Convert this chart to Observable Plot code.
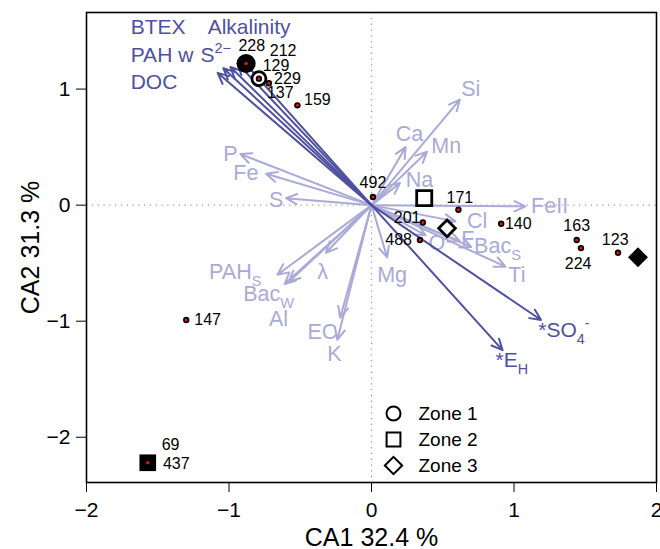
<!DOCTYPE html>
<html><head><meta charset="utf-8">
<script src="https://cdn.jsdelivr.net/npm/d3@7"></script>
<script src="https://cdn.jsdelivr.net/npm/@observablehq/plot@0.6"></script>
<style>
body{margin:0;background:#fff;}
#chart svg{font-family:"Liberation Sans",Arial,Helvetica,sans-serif;}
</style></head><body><div id="chart"></div>
<script>
// Dark (fitted, significant) variable arrows
const darkNames = ["BTEX","Alkalinity","PAH w","S2-","DOC","SO4","EH"];
const darkTipX  = [-1.08,-1.04,-0.99,-0.94,-0.90, 1.19, 0.92];
const darkTipY  = [ 1.14, 1.18, 1.19, 1.22, 1.24,-0.99,-1.25];
const darkLabels = ["BTEX","Alkalinity","PAH w","S^{2−}","DOC","*SO_{4}^{-}","*E_{H}"];
const darkLabelX = [-1.69,-1.15,-1.69,-1.20,-1.69, 1.17, 0.87];
const darkLabelY = [ 1.53, 1.53, 1.29, 1.29, 1.06,-1.08,-1.34];

// Light (passive) variable arrows
const lightLabels = ["Si","Ca","Mn","Na","P","Fe","S","FeII","Cl","F","O","Bac_{S}","Ti","Mg","EC","K","λ","PAH_{S}","Bac_{W}","Al"];
const lightTipX = [0.62,0.24,0.39,0.20,-0.92,-0.74,-0.60,1.08,0.59,0.62,0.38,0.70,0.94,0.11,-0.22,-0.24,-0.32,-0.66,-0.58,-0.61];
const lightTipY = [0.91,0.50,0.46,0.19, 0.44, 0.27, 0.06,-0.01,-0.14,-0.31,-0.26,-0.36,-0.53,-0.45,-0.97,-1.16,-0.41,-0.60,-0.66,-0.68];
const lightLabelX = [0.63,0.17,0.42,0.24,-1.04,-0.97,-0.72,1.12,0.67,0.63,0.40,0.72,0.96,0.04,-0.45,-0.31,-0.38,-1.14,-0.90,-0.72];
const lightLabelY = [1.00,0.61,0.51,0.22, 0.44, 0.28, 0.04,-0.01,-0.14,-0.29,-0.33,-0.35,-0.60,-0.60,-1.09,-1.28,-0.58,-0.58,-0.77,-0.98];

// Samples
const sampleIds = ["228","212","129","229","137","159","492","171","201","488","140","163","224","123","147","69","437"];
const sampleX = [-0.88,-0.88,-0.88,-0.79,-0.72,-0.52,0.01,0.61,0.36,0.34,0.91,1.44,1.47,1.73,-1.30,-1.57,-1.57];
const sampleY = [ 1.22, 1.22, 1.22, 1.09, 1.05, 0.86,0.07,-0.04,-0.15,-0.30,-0.16,-0.30,-0.37,-0.41,-0.99,-2.22,-2.22];
const sampleLabelX = [-0.84,-0.62,-0.67,-0.59,-0.64,-0.38,0.01,0.62,0.25,0.19,1.03,1.44,1.45,1.71,-1.15,-1.41,-1.37];
const sampleLabelY = [ 1.37, 1.33, 1.20, 1.09, 0.97, 0.91,0.19,0.06,-0.11,-0.30,-0.16,-0.18,-0.51,-0.30,-0.99,-2.07,-2.23];

// Zones
const zoneNames = ["Zone 1","Zone 2","Zone 3"];
const zoneSymbols = ["circle","square","diamond2"];
const zoneCentroidX = [-0.79,0.37,0.53];
const zoneCentroidY = [ 1.09,0.06,-0.20];
const zoneFilledX = [-0.88,-1.57,1.87];
const zoneFilledY = [ 1.22,-2.22,-0.45];

const xTicks = [-2,-1,0,1,2];
const yTicks = [-2,-1,0,1];

const DARK = "#5050a2", LIGHT = "#aaaad8";

const dark = darkNames.map((n,i)=>({name:n, x:darkTipX[i], y:darkTipY[i]}));
const darkLab = darkLabels.map((n,i)=>({label:n, x:darkLabelX[i], y:darkLabelY[i]}));
const light = lightLabels.map((n,i)=>({label:n, x:lightTipX[i], y:lightTipY[i], lx:lightLabelX[i], ly:lightLabelY[i]}));
const samples = sampleIds.map((id,i)=>({id, x:sampleX[i], y:sampleY[i], lx:sampleLabelX[i], ly:sampleLabelY[i]}));
const zones = zoneNames.map((z,i)=>({zone:z, symbol:zoneSymbols[i], cx:zoneCentroidX[i], cy:zoneCentroidY[i], fx:zoneFilledX[i], fy:zoneFilledY[i]}));

const zoneR = {"circle":7, "square":8.5, "diamond2":7.5};
const filledR = {"circle":9.5, "square":9.4, "diamond2":9};
const legendR = {"circle":7, "square":7.8, "diamond2":7.8};

const legendMarks = zones.flatMap((z,i)=>[
  Plot.dot([z], {frameAnchor:"bottom-left", dx:307, dy:-69 + i*26, symbol:z.symbol, r:legendR[z.symbol], stroke:"black", strokeWidth:2, fill:"white"}),
  Plot.text([z], {frameAnchor:"bottom-left", dx:332, dy:-69 + i*26, text:"zone", textAnchor:"start", lineAnchor:"middle", fontSize:19, fill:"black"})
]);

const chart = Plot.plot({
  width:660, height:549,
  marginLeft:86, marginRight:4, marginTop:12, marginBottom:67,
  x:{domain:[-2,2]},
  y:{domain:[-2.39,1.66]},
  style:{fontSize:"21px", fontFamily:"'Liberation Sans',Arial,Helvetica,sans-serif", background:"white"},
  marks:[
    Plot.ruleX([0], {stroke:"#a0a0a0", strokeWidth:1.3, strokeDasharray:"1.3,4.5"}),
    Plot.ruleY([0], {stroke:"#a0a0a0", strokeWidth:1.3, strokeDasharray:"1.3,4.5"}),
    Plot.arrow(light, {x1:0, y1:0, x2:"x", y2:"y", stroke:LIGHT, strokeWidth:2, headLength:9, headAngle:50}),
    Plot.text(light, {x:"lx", y:"ly", text:"label", textAnchor:"start", fill:LIGHT, fontSize:21.5}),
    Plot.arrow(dark, {x1:0, y1:0, x2:"x", y2:"y", stroke:DARK, strokeWidth:2, headLength:9, headAngle:50}),
    Plot.text(darkLab, {x:"x", y:"y", text:"label", textAnchor:"start", fill:DARK, fontSize:21}),
    Plot.dot(zones, {x:"cx", y:"cy", symbol:"symbol", r:d=>zoneR[d.symbol], stroke:"black", strokeWidth:2.8, fill:"white"}),
    Plot.dot(zones, {x:"fx", y:"fy", symbol:"symbol", r:d=>filledR[d.symbol], fill:"black"}),
    Plot.dot(samples, {x:"x", y:"y", r:3.2, fill:"black"}),
    Plot.dot(samples, {x:"x", y:"y", r:1.5, fill:"#ee1111"}),
    Plot.text(samples, {x:"lx", y:"ly", text:"id", fill:"black", fontSize:16}),
    ...legendMarks,
    Plot.frame({stroke:"black", strokeWidth:1.6}),
    Plot.axisX({ticks:xTicks, tickSize:10, tickPadding:10, label:null, tickFormat:d3.format("")}),
    Plot.axisY({ticks:yTicks, tickSize:10, tickPadding:6, label:null, tickFormat:d3.format("")}),
    Plot.text(["CA1 32.4 %"], {frameAnchor:"bottom", dy:55, textAnchor:"middle", lineAnchor:"middle", fontSize:25, fill:"black"}),
    Plot.text(["CA2 31.3 %"], {frameAnchor:"left", dx:-56, rotate:-90, textAnchor:"middle", lineAnchor:"middle", fontSize:25, fill:"black"})
  ],
  r:{type:"identity"},
  symbol:{type:"identity"}
});
document.getElementById("chart").appendChild(chart);

// rich text: _{sub} and ^{sup}
d3.select(chart).selectAll("text").each(function(){
  const t = this.textContent;
  if(!/[_^]\{/.test(t)) return;
  const fs = parseFloat(getComputedStyle(this).fontSize) || 20;
  const parts = t.split(/([_^]\{[^}]*\})/).filter(s=>s.length);
  this.textContent = "";
  let shift = 0;
  for(const p of parts){
    const ts = document.createElementNS("http://www.w3.org/2000/svg","tspan");
    let target = 0, content = p, small = false;
    if(p.startsWith("_{")){target = 0.32; content = p.slice(2,-1); small = true;}
    else if(p.startsWith("^{")){target = -0.42; content = p.slice(2,-1); small = true;}
    ts.setAttribute("dy", ((target - shift)*fs).toFixed(2));
    shift = target;
    if(small) ts.setAttribute("font-size", (fs*0.68).toFixed(1));
    ts.textContent = content;
    this.appendChild(ts);
  }
});
</script></body></html>
